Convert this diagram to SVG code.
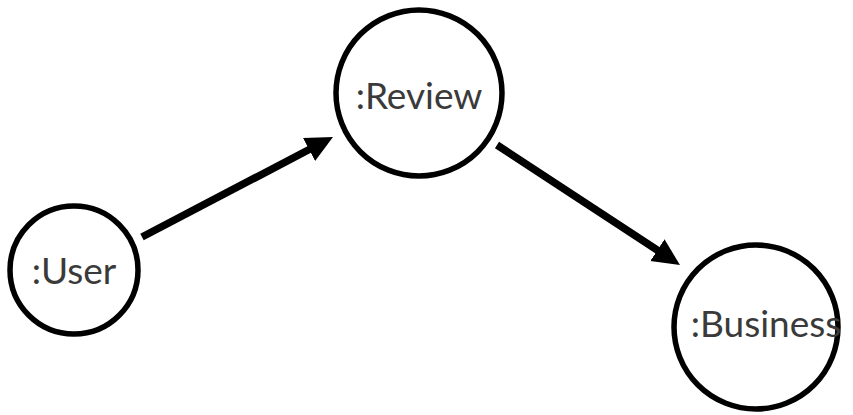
<svg xmlns="http://www.w3.org/2000/svg" width="853" height="415" viewBox="0 0 853 415">
  <style>
    .node { fill: #ffffff; stroke: #000000; stroke-width: 5.5; }
    .label { font-family: Lato, "Open Sans", "Liberation Sans", sans-serif; font-size: 37px; fill: #3a3a3a; text-anchor: middle; }
    .edge { fill: none; stroke: #000000; stroke-width: 7.5; }
  </style>
  <defs>
    <marker id="arrow" markerUnits="userSpaceOnUse" markerWidth="28" markerHeight="28" refX="6" refY="13" orient="auto">
      <path d="M0,0 L27,13 L0,26 z" fill="#000000"/>
    </marker>
  </defs>
  <rect width="853" height="415" fill="#ffffff"/>
  <g id="connectors">
    <path class="edge" d="M142,237 L314.4,146.8" marker-end="url(#arrow)"/>
    <path class="edge" d="M497,145 L662.4,253.5" marker-end="url(#arrow)"/>
  </g>
  <g id="user">
    <circle class="node" cx="74" cy="270" r="64"/>
    <text class="label" x="74" y="284">:User</text>
  </g>
  <g id="review">
    <circle class="node" cx="419" cy="93" r="83"/>
    <text class="label" x="419" y="109">:Review</text>
  </g>
  <g id="business">
    <circle class="node" cx="756" cy="327" r="82"/>
    <text class="label" x="766" y="337" font-size="36">:Business</text>
  </g>
</svg>
